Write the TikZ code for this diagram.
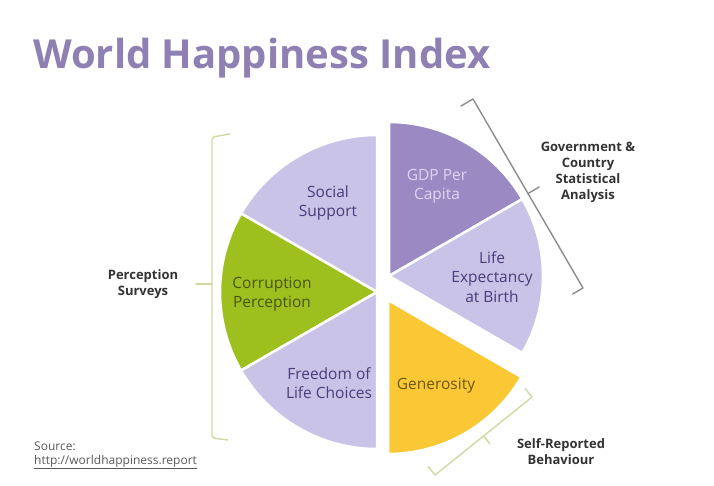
\documentclass[tikz,border=0pt]{standalone}
\usepackage{fontspec}
\setmainfont{Open Sans}
\usepackage{xcolor}
\usepackage{tikz}
\usetikzlibrary{calc}

\definecolor{lavender}{HTML}{C9C3E7}
\definecolor{gdpviolet}{HTML}{9B89C4}
\definecolor{limegreen}{HTML}{9DC01E}
\definecolor{sunyellow}{HTML}{F9C834}
\definecolor{titleviolet}{HTML}{8F80B4}
\definecolor{inkviolet}{HTML}{4B3C7A}
\definecolor{inkolive}{HTML}{475614}
\definecolor{inkbrown}{HTML}{6E5616}
\definecolor{paleviolet}{HTML}{DDD6F2}
\definecolor{bracegreen}{HTML}{D2D8A2}
\definecolor{bracegray}{HTML}{8C8C8C}

\begin{document}
\begin{tikzpicture}[
    x=1pt, y=1pt,
    sector/.style={draw=white, line width=2.5pt, line join=round},
    slabel/.style={align=center, font=\fontsize{15.5}{19.5}\selectfont, inner sep=0pt},
    sidelabel/.style={align=center, font=\fontsize{13}{16}\selectfont\bfseries, text=black!80, inner sep=0pt},
    bracket/.style={line width=1.4pt, line join=round, line cap=round},
]
\useasboundingbox (0,0) rectangle (714,-485);

% === Title ===
\node[anchor=base west, inner sep=0pt, text=titleviolet, font=\fontsize{40}{48}\selectfont\bfseries] (title) at (33,-68) {World Happiness Index};

% === Left half (perception surveys) ===
\coordinate (cl) at (377,-292);
\filldraw[sector, fill=lavender] (cl) -- ++(90:157) arc[start angle=90, end angle=150, radius=157] -- cycle;
\filldraw[sector, fill=limegreen] (cl) -- ++(150:157) arc[start angle=150, end angle=210, radius=157] -- cycle;
\filldraw[sector, fill=lavender] (cl) -- ++(210:157) arc[start angle=210, end angle=270, radius=157] -- cycle;

% === Right half (statistics + behaviour) ===
\coordinate (cu) at (389,-276);
\coordinate (cg) at (388,-300);
\filldraw[sector, fill=gdpviolet] (cu) -- ++(30:154) arc[start angle=30, end angle=90, radius=154] -- cycle;
\filldraw[sector, fill=lavender] (cu) -- ++(-30:154) arc[start angle=-30, end angle=30, radius=154] -- cycle;
\filldraw[sector, fill=sunyellow] (cg) -- ++(-90:154) arc[start angle=-90, end angle=-30, radius=154] -- cycle;

% === Sector labels ===
\node[slabel, text=inkviolet] (social) at (328,-203) {Social\\Support};
\node[slabel, text=inkolive] (corruption) at (272,-294) {Corruption\\Perception};
\node[slabel, text=inkviolet] (freedom) at (329,-383) {Freedom of\\Life Choices};
\node[slabel, text=paleviolet] (gdp) at (437,-186) {GDP Per\\Capita};
\node[slabel, text=inkviolet] (life) at (492,-277) {Life\\Expectancy\\at Birth};
\node[slabel, text=inkbrown] (generosity) at (436,-386) {Generosity};

% === Brackets ===
\coordinate (lb1) at (212,-137);
\coordinate (lb2) at (212,-438);
\coordinate (lbm) at (212,-284);
\draw[bracket, bracegreen, rounded corners=2pt] (230,-134) -- (lb1) -- (lb2) -- (228,-440);
\draw[bracket, bracegreen] (lbm) -- ++(-16,0);

\coordinate (rb1) at (473,-99);
\coordinate (rb2) at (583,-288);
\coordinate (rbm) at ($(rb1)!0.5!(rb2)$);
\draw[bracket, bracegray] ($(rb1)!14pt!-90:(rb2)$) -- (rb1) -- (rb2) -- ($(rb2)!12pt!90:(rb1)$);
\draw[bracket, bracegray] (rbm) -- ($(rbm)!13pt!90:(rb2)$);

\coordinate (gb1) at (532,-397);
\coordinate (gb2) at (435,-475);
\coordinate (gbm) at ($(gb1)!0.5!(gb2)$);
\draw[bracket, bracegreen] ($(gb1)!11pt!-90:(gb2)$) -- (gb1) -- (gb2) -- ($(gb2)!11pt!90:(gb1)$);
\draw[bracket, bracegreen] (gbm) -- ($(gbm)!10pt!90:(gb2)$);

% === Group labels ===
\node[sidelabel] (govlabel) at (588,-172) {Government \&\\Country\\Statistical\\Analysis};
\node[sidelabel] (perception) at (143,-284) {Perception\\Surveys};
\node[sidelabel] (selfrep) at (561,-452) {Self-Reported\\Behaviour};

% === Source ===
\node[anchor=base west, inner sep=0pt, text=black!65, font=\fontsize{12}{15}\selectfont] (source) at (34,-450) {Source:};
\node[anchor=base west, inner sep=0pt, text=black!65, font=\fontsize{12}{15}\selectfont] (url) at (34,-464) {\underline{http://worldhappiness.report}};

\end{tikzpicture}
\end{document}
